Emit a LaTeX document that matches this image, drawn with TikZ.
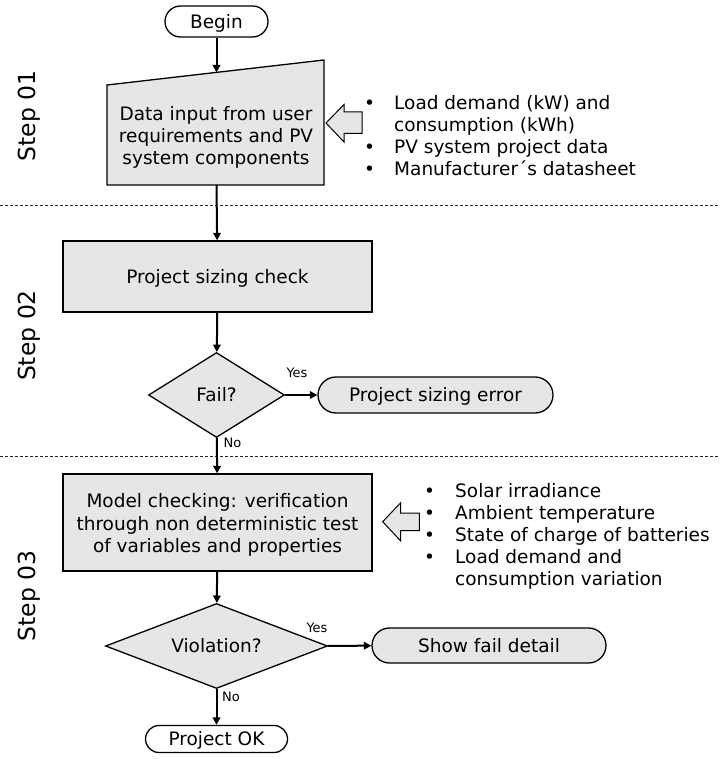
\documentclass[tikz,border=0pt]{standalone}
\usepackage{fontspec}
\setmainfont{DejaVu Sans}
\usetikzlibrary{shapes.geometric,shapes.misc,arrows.meta}
\newcommand\bigsz{\fontsize{18.5}{22.1}\selectfont}
\newcommand\smallsz{\fontsize{13}{15}\selectfont}
\newcommand\stepsz{\fontsize{23.5}{28}\selectfont}
\newcommand\bul{\makebox[0pt]{•}\hspace{24.7pt}}
\newcommand\bulb{\makebox[0pt]{•}\hspace{25.7pt}}
\newcommand\nob{\hspace{24.7pt}}
\newcommand\nobb{\hspace{25.7pt}}
\definecolor{boxgray}{RGB}{230,230,230}
\begin{document}
\begin{tikzpicture}[x=1pt,y=-1pt,
  every node/.style={font=\bigsz, inner sep=0pt},
  procbox/.style={draw, line width=1.3pt, fill=boxgray, rectangle, align=center},
  term/.style={draw, line width=1.3pt, rounded rectangle, text height=13.4pt, text depth=0pt},
  decision/.style={draw, line width=1.3pt, fill=boxgray, diamond, minimum height=85pt, text height=13.4pt, text depth=0pt},
  flow/.style={line width=2pt, -{Triangle[length=7.5pt,width=7.5pt]}},
  sep/.style={line width=0.9pt, dash pattern=on 3pt off 2pt, draw=black!85},
  hollow/.style={draw, line width=1pt, fill=boxgray, line join=miter},
  lbl/.style={font=\smallsz},
  steplbl/.style={font=\stepsz, rotate=90},
  listbox/.style={anchor=north west, align=left},
]
\useasboundingbox (0,0) rectangle (719,759);

% separators
\draw[sep] (0,205) -- (719,205);
\draw[sep] (0,456) -- (719,456);

% step labels
\node[steplbl] (step1) at (29,116) {Step 01};
\node[steplbl] (step2) at (29,335.5) {Step 02};
\node[steplbl] (step3) at (29,596) {Step 03};

% begin
\node[term, fill=white, minimum width=103pt, minimum height=31pt] (begin) at (216.5,21.5) {Begin};

% manual input shape
\path[draw, line width=1.3pt, fill=boxgray] (107,185) -- (107,85) -- (324,60) -- (324,185) -- cycle;
\node[align=center] (datain) at (216,137.5) {Data input from user\\requirements and PV\\system components};
\coordinate (dtop) at (216.5,72.5);
\coordinate (dbot) at (216.5,185);

% sizing
\node[procbox, minimum width=309pt, minimum height=71pt, text height=13.4pt, text depth=0pt] (sizing) at (217.5,276.5) {Project sizing check};
\node[decision, shape aspect=1.6, minimum width=136pt] (fail) at (216.5,395) {Fail?};
\node[term, fill=boxgray, minimum width=235pt, minimum height=36pt] (sizerr) at (435.5,395) {Project sizing error};

% model checking
\node[procbox, minimum width=309pt, minimum height=97pt] (model) at (217.5,522.5) {\rule{0pt}{19pt}Model checking: verification\\through non deterministic test\\of variables and properties};
\node[decision, shape aspect=2.6, minimum width=222pt] (viol) at (216.5,646) {Violation?};
\node[term, fill=boxgray, minimum width=234pt, minimum height=35pt] (showfail) at (489,645.5) {Show fail detail};
\node[term, fill=white, minimum width=142pt, minimum height=27pt] (ok) at (216.5,739) {Project OK};

% labels
\node[lbl] (yes1) at (297,373) {Yes};
\node[lbl] (no1) at (232.5,443) {No};
\node[lbl] (yes2) at (317,628) {Yes};
\node[lbl] (no2) at (231,697) {No};

% connectors
\draw[flow] (begin) -- (dtop);
\draw[flow] (dbot) -- (sizing);
\draw[flow] (sizing) -- (fail);
\draw[flow] (fail) -- (sizerr);
\draw[flow] (fail) -- (model);
\draw[flow] (model) -- (viol);
\draw[flow] (viol) -- (showfail);
\draw[flow] (viol) -- (ok);

% hollow input arrows
\draw[hollow] (326,123) -- (344,104.5) -- (344,112) -- (362,112) -- (362,133.5) -- (344,133.5) -- (344,142) -- cycle;
\draw[hollow] (382.7,521.7) -- (400.7,502.7) -- (400.7,513) -- (419.3,513) -- (419.3,530.5) -- (400.7,530.5) -- (400.7,541) -- cycle;

% lists
\node[listbox] (list1) at (369.3,93.4) {\begin{tabular}{@{}l@{}}
\bul Load demand (kW) and\\
\nob consumption (kWh)\\
\bul PV system project data\\
\bul Manufacturer´s datasheet
\end{tabular}};
\node[listbox] (list2) at (429.3,481.4) {\begin{tabular}{@{}l@{}}
\bulb Solar irradiance\\
\bulb Ambient temperature\\
\bulb State of charge of batteries\\
\bulb Load demand and\\
\nobb consumption variation
\end{tabular}};
\end{tikzpicture}
\end{document}
